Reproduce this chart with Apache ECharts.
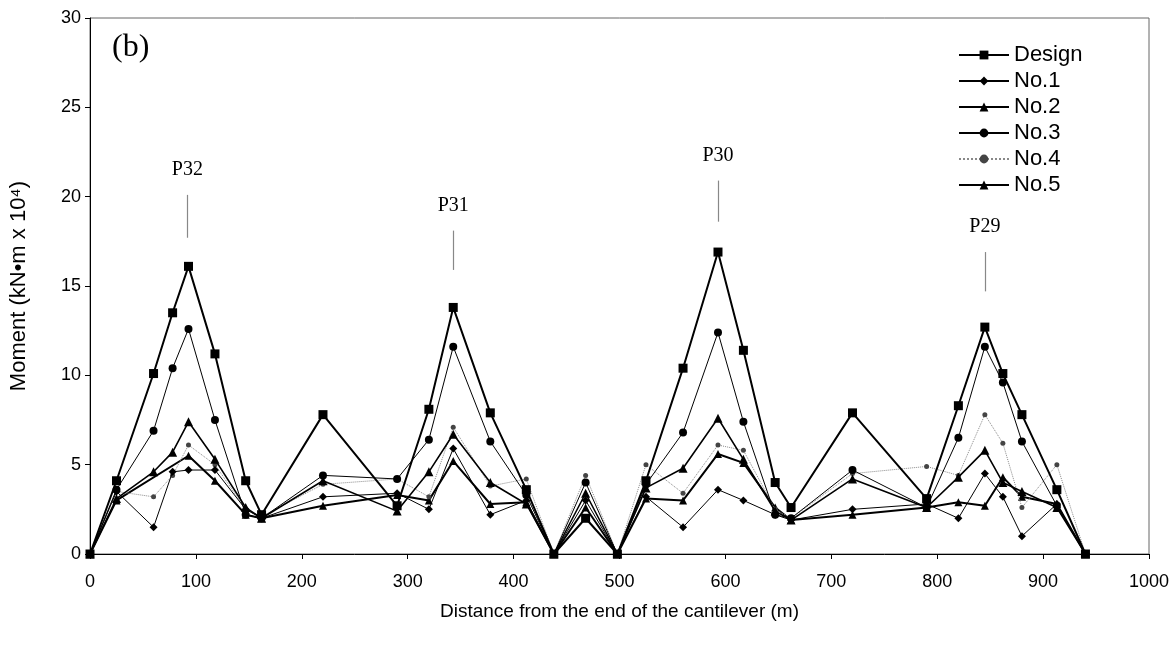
<!DOCTYPE html>
<html><head><meta charset="utf-8">
<script src="https://cdn.jsdelivr.net/npm/echarts@6/dist/echarts.min.js"></script>
<style>html,body{margin:0;padding:0;background:#fff}#c{width:1176px;height:648px}</style>
</head><body><div id="c"></div>
<script>
var xs     = [0,25,60,78,93,118,147,162,220,290,320,343,378,412,438,468,498,525,560,593,617,647,662,720,790,820,845,862,880,913,940];
var design = [0,4.1,10.1,13.5,16.1,11.2,4.1,2.2,7.8,2.7,8.1,13.8,7.9,3.6,0,2.0,0,4.1,10.4,16.9,11.4,4.0,2.6,7.9,3.1,8.3,12.7,10.1,7.8,3.6,0];
var no1    = [0,3.5,1.5,4.6,4.7,4.7,2.5,2.0,3.2,3.4,2.5,5.9,2.2,3.0,0,3.0,0,3.2,1.5,3.6,3.0,2.2,1.9,2.5,2.8,2.0,4.5,3.2,1.0,2.8,0];
var no2    = [0,3.1,4.6,5.7,7.4,5.3,2.6,2.0,4.1,2.4,4.6,6.7,4.0,2.8,0,3.4,0,3.7,4.8,7.6,5.3,2.4,1.9,4.2,2.6,4.3,5.8,4.0,3.5,2.6,0];
var no3    = [0,3.6,6.9,10.4,12.6,7.5,2.2,2.0,4.4,4.2,6.4,11.6,6.3,3.3,0,4.0,0,3.9,6.8,12.4,7.4,2.2,2.0,4.7,2.6,6.5,11.6,9.6,6.3,2.7,0];
var no4    = [0,3.5,3.2,4.4,6.1,5.0,2.5,2.1,3.9,4.2,3.2,7.1,3.8,4.2,0,4.4,0,5.0,3.4,6.1,5.8,2.5,2.0,4.5,4.9,4.4,7.8,6.2,2.6,5.0,0];
var no5    = [0,3.0,null,null,5.5,4.1,2.2,2.0,2.7,3.3,3.0,5.2,2.8,2.9,0,2.6,0,3.1,3.0,5.6,5.1,2.6,1.9,2.2,2.6,2.9,2.7,4.3,3.2,2.8,0];
var seriesNames = ['Design','No.1','No.2','No.3','No.4','No.5'];
var xTicks = [0,100,200,300,400,500,600,700,800,900,1000];
var yTicks = [0,5,10,15,20,25,30];
// pier annotations
var pierNames = ['P32','P31','P30','P29'];
var pierX     = [92,343,593,845];
var pierLow   = [17.7,15.9,18.6,14.7];
var pierHigh  = [20.1,18.1,20.9,16.9];

function pairs(arr){var o=[];for(var i=0;i<xs.length;i++){if(arr[i]!==null)o.push([xs[i],arr[i]]);}return o;}

var styles = [
  {sym:'rect', size:9, w:2, type:'solid', c:'#000', mc:'#000'},
  {sym:'diamond', size:8, w:1, type:'solid', c:'#000', mc:'#000'},
  {sym:'triangle', size:9, w:1.6, type:'solid', c:'#000', mc:'#000'},
  {sym:'circle', size:8, w:1, type:'solid', c:'#000', mc:'#000'},
  {sym:'circle', size:5, w:1, type:'dotted', c:'#888', mc:'#444'},
  {sym:'triangle', size:8, w:2, type:'solid', c:'#000', mc:'#000'}
];
var datas = [design,no1,no2,no3,no4,no5];
var series = datas.map(function(d,i){
  var s = styles[i];
  return {name:seriesNames[i], type:'line', data:pairs(d), symbol:s.sym, symbolSize:s.size,
    showAllSymbol:true, animation:false,
    lineStyle:{color:s.c, width:s.w, type:s.type},
    itemStyle:{color:s.mc, borderWidth:0}, z: 10-i};
});
series.push({type:'line', data:[], silent:true, animation:false,
  markLine:{symbol:'none', silent:true, animation:false,
    lineStyle:{color:'#888', width:1.2, type:'solid'},
    label:{show:true, position:'end', distance:15, color:'#000', fontFamily:'Liberation Serif', fontSize:20,
      formatter:function(p){return p.name;}},
    data: pierNames.map(function(n,i){return [{name:n, coord:[pierX[i],pierLow[i]]},{coord:[pierX[i],pierHigh[i]]}];})
  }});

var chart = echarts.init(document.getElementById('c'), null, {renderer:'canvas'});
chart.setOption({
  backgroundColor:'#fff',
  animation:false,
  title:{text:'(b)', left:107, top:27, textStyle:{fontFamily:'Liberation Serif', fontSize:32, fontWeight:'normal', color:'#000'}},
  grid:{left:89, right:27, top:18, bottom:94, show:true, borderColor:'#666', borderWidth:1},
  legend:{orient:'vertical', left:953, top:39, itemWidth:50, itemHeight:11, itemGap:4,
    data:seriesNames, textStyle:{fontFamily:'Liberation Sans', fontSize:22, color:'#000'}},
  xAxis:{type:'value', min:xTicks[0], max:xTicks[xTicks.length-1], interval:100,
    name:'Distance from the end of the cantilever (m)', nameLocation:'middle', nameGap:48,
    nameTextStyle:{fontFamily:'Liberation Sans', fontSize:19, color:'#000'},
    axisLine:{lineStyle:{color:'#000', width:1}}, axisTick:{show:true, length:5, lineStyle:{color:'#000'}},
    axisLabel:{fontFamily:'Liberation Sans', fontSize:18, color:'#000', margin:19,
      formatter:function(v){return String(v);}}, splitLine:{show:false}},
  yAxis:{type:'value', min:yTicks[0], max:yTicks[yTicks.length-1], interval:5,
    name:'Moment (kN\u2022m x 10\u2074)', nameLocation:'middle', nameGap:60, nameRotate:90,
    nameTextStyle:{fontFamily:'Liberation Sans', fontSize:22, color:'#000'},
    axisLine:{show:true, lineStyle:{color:'#000', width:1}}, axisTick:{show:true, length:5, lineStyle:{color:'#000'}},
    axisLabel:{fontFamily:'Liberation Sans', fontSize:18, color:'#000', margin:9}, splitLine:{show:false}},
  series:series
});
</script></body></html>
